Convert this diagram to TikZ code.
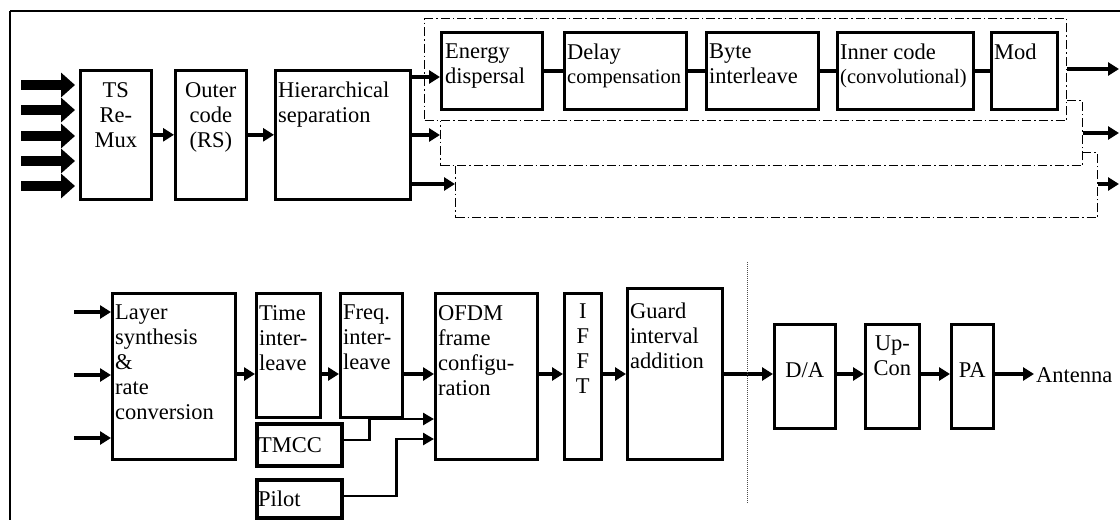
\documentclass[tikz,border=0pt]{standalone}
\usepackage{fontspec}
\setmainfont{Liberation Serif}
\usetikzlibrary{arrows.meta}

% block given by its top-left and bottom-right corners (y grows downwards)
\newcommand\mkblock[6][]{%
  \node[blk,#1,anchor=north west,minimum width={#5-#3},minimum height={#6-#4}]
    (#2) at (#3,#4) {};}

\begin{document}
\begin{tikzpicture}[x=1pt,y=-1pt,
  blk/.style={draw,line width=2.6pt,rectangle,inner sep=0pt},
  heavyblk/.style={line width=3.5pt},
  grp/.style={draw,line width=1.4pt,fill=white,
    dash pattern=on 9pt off 3pt on 1.6pt off 3pt},
  lbl/.style={inner sep=0pt,align=left,font=\fontsize{22.5}{25}\selectfont},
  clbl/.style={inner sep=0pt,align=center,font=\fontsize{22.5}{25}\selectfont},
  link/.style={line width=3.5pt},
  arr/.style={line width=3.5pt,-{Triangle[length=11pt,width=13pt]}},
  thinarr/.style={line width=2.6pt,-{Triangle[length=11pt,width=12pt]}},
  fat/.style={line width=10pt,-{Triangle[length=14pt,width=24pt]}},
]
\useasboundingbox (0,0) rectangle (1120,520);

% frame
\draw[line width=2.6pt] (10,11) -- (1120,11);
\draw[line width=1.3pt] (10,11) -- (10,520);

% ---------------- upper chain ----------------
\mkblock{ts}{79}{69}{150}{198}
\mkblock{outer}{174}{69}{245}{198}
\mkblock{hier}{274}{69}{409}{198}
\node[clbl,anchor=north] at ([shift={(0,13)}]ts.north) {TS\\Re-\\Mux};
\node[clbl,anchor=north] at ([shift={(0,13)}]outer.north) {Outer\\code\\(RS)};
\node[lbl,anchor=north west] at ([shift={(4,13)}]hier.north west) {Hierarchical\\separation};

% five transport stream inputs
\foreach \yy [count=\i] in {85,110,136,161,186}{
  \coordinate (ts-in-\i) at (21,\yy);
  \draw[fat] (ts-in-\i) -- ([xshift=-4]ts.west |- ts-in-\i);
}
\draw[arr] (ts.east) -- (outer.west);
\draw[arr] (outer.east) -- (hier.west);

% stacked layer groups (back to front)
\mkblock[grp,draw]{layerC}{455}{152}{1097}{217}
\mkblock[grp,draw]{layerB}{440}{100}{1082}{165}
\mkblock[grp,draw]{layerA}{424}{18}{1066}{120}

\mkblock{energy}{440}{31}{541}{108}
\mkblock{delay}{563}{31}{685}{108}
\mkblock{byte}{705}{31}{817}{108}
\mkblock{inner}{836}{31}{972}{108}
\mkblock{mod}{990}{31}{1056}{108}
\node[lbl,anchor=north west] at ([shift={(5,13)}]energy.north west) {Energy\\dispersal};
\node[lbl,anchor=north west] at ([shift={(4,13)}]delay.north west) {Delay\\[-1pt]{\fontsize{20.5}{25}\selectfont compensation}};
\node[lbl,anchor=north west] at ([shift={(4,13)}]byte.north west) {Byte\\interleave};
\node[lbl,anchor=north west] at ([shift={(4,13)}]inner.north west) {Inner code\\[-1pt]{\fontsize{20.5}{25}\selectfont(convolutional)}};
\node[lbl,anchor=north west] at ([shift={(4,13)}]mod.north west) {Mod};

\draw[link] (energy.east) -- (delay.west);
\draw[link] (delay.east) -- (byte.west);
\draw[link] (byte.east) -- (inner.west);
\draw[link] (inner.east) -- (mod.west);

\draw[arr] (hier.east |- 0,77) -- (energy.west |- 0,77);
\draw[arr] (hier.east |- 0,135) -- (layerB.west |- 0,135);
\draw[arr] (hier.east |- 0,184) -- (layerC.west |- 0,184);

\coordinate (outA) at (1119,69);
\coordinate (outB) at (1119,133);
\coordinate (outC) at (1119,184);
\draw[arr] (layerA.east |- outA) -- (outA);
\draw[arr] (layerB.east |- outB) -- (outB);
\draw[arr] (layerC.east |- outC) -- (outC);

% ---------------- lower chain ----------------
\mkblock{layer}{111}{292}{234}{458}
\mkblock{time}{255}{292}{319}{416}
\mkblock{freq}{339}{292}{401}{416}
\mkblock{ofdm}{434}{292}{536}{458}
\mkblock{ifft}{563}{292}{600}{458}
\mkblock{guard}{626}{287}{721}{458}
\mkblock[heavyblk]{tmcc}{255}{422}{340}{464}
\mkblock[heavyblk]{pilot}{255}{478}{340}{516}
\mkblock{da}{773}{323}{834}{427}
\mkblock{upcon}{864}{323}{918}{427}
\mkblock{pa}{950}{323}{992}{427}

\node[lbl,anchor=north west] at ([shift={(4,13)}]layer.north west) {Layer\\synthesis\\\&\\rate\\conversion};
\node[lbl,anchor=north west] at ([shift={(4,13)}]time.north west) {Time\\inter-\\leave};
\node[lbl,anchor=north west] at ([shift={(4,13)}]freq.north west) {Freq.\\inter-\\leave};
\node[lbl,anchor=north west] at ([shift={(4,13)}]ofdm.north west) {OFDM\\frame\\configu-\\ration};
\node[clbl,anchor=north] at ([shift={(0,12)}]ifft.north) {I\\F\\F\\T};
\node[lbl,anchor=north west] at ([shift={(4,16)}]guard.north west) {Guard\\interval\\addition};
\node[lbl,anchor=west] at ([xshift=3]tmcc.west) {TMCC};
\node[lbl,anchor=west] at ([xshift=3]pilot.west) {Pilot};
\node[clbl,anchor=north] at ([shift={(0,39)}]da.north) {D/A};
\node[clbl,anchor=north] at ([shift={(0,13)}]upcon.north) {Up-\\Con};
\node[clbl,anchor=north] at ([shift={(0,39)}]pa.north) {PA};
\node[lbl,anchor=west,inner sep=2pt] (ant) at (1034,375) {Antenna};

% layer inputs
\foreach \yy [count=\i] in {312,375,438}{
  \coordinate (layer-in-\i) at (74,\yy);
  \draw[arr] (layer-in-\i) -- (layer.west |- layer-in-\i);
}

\draw[arr] (layer.east |- 0,374) -- (time.west |- 0,374);
\draw[arr] (time.east |- 0,374) -- (freq.west |- 0,374);
\draw[arr] (freq.east |- 0,374) -- (ofdm.west |- 0,374);
\draw[arr] (ofdm.east |- 0,374) -- (ifft.west |- 0,374);
\draw[arr] (ifft.east |- 0,374) -- (guard.west |- 0,374);
\draw[arr] (guard.east |- 0,374) -- (da.west |- 0,374);
\draw[arr] (da.east |- 0,374) -- (upcon.west |- 0,374);
\draw[arr] (upcon.east |- 0,374) -- (pa.west |- 0,374);
\draw[arr] (pa.east |- 0,374) -- (ant.west |- 0,374);

\draw[thinarr] (tmcc.east |- 0,440) -- ++(26,0) |- (ofdm.west |- 0,419);
\draw[thinarr] (pilot.east |- 0,496) -- ++(53,0) |- (ofdm.west |- 0,439);

% boundary between baseband and RF sections
\draw[line width=1pt,gray!60!black,dash pattern=on 1pt off 1pt] (747,262) -- (747,503);
\end{tikzpicture}
\end{document}
